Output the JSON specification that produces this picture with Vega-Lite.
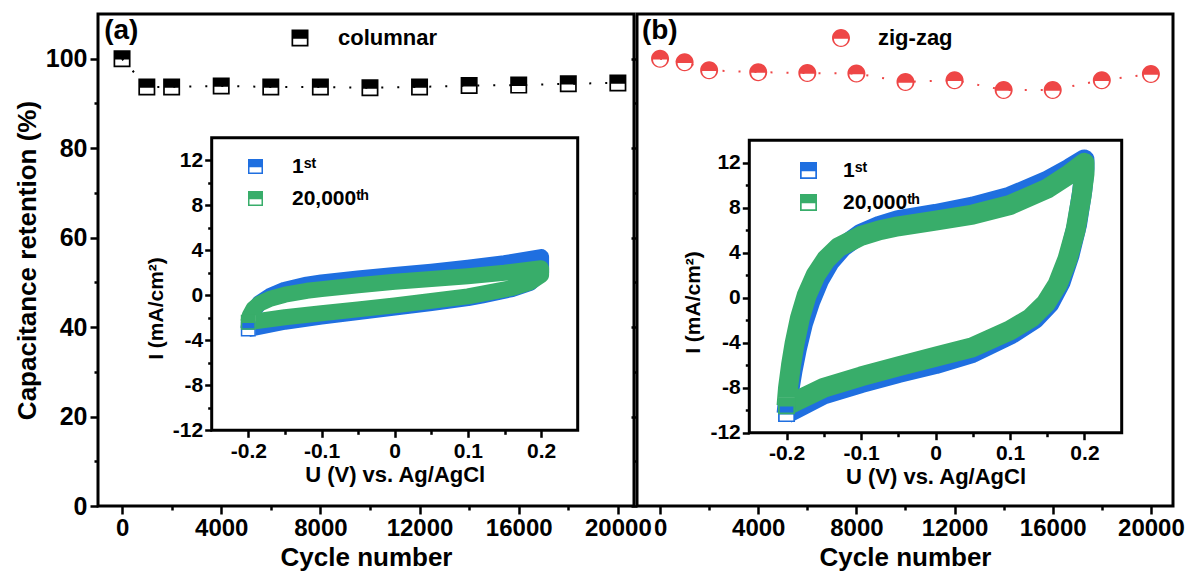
{
  "$schema": "https://vega.github.io/schema/vega-lite/v6.json",
  "padding": {"left": 12, "top": 12, "right": 5, "bottom": 5},
  "background": "white",
  "config": {
    "font": "Liberation Sans",
    "view": {"stroke": "black", "strokeWidth": 3},
    "axis": {"labelFont": "Liberation Sans", "titleFont": "Liberation Sans", "labelFontWeight": "bold", "titleFontWeight": "bold", "labelColor": "black", "titleColor": "black", "tickColor": "black", "tickWidth": 2.5, "grid": false, "labelFlush": false, "labelOverlap": false},
    "legend": {"labelFont": "Liberation Sans", "labelFontWeight": "bold", "labelColor": "black"}
  },
  "datasets": {
    "retA": [
      {"cycle": 0, "retention": 100, "series": "columnar"},
      {"cycle": 1000, "retention": 93.7, "series": "columnar"},
      {"cycle": 2000, "retention": 93.7, "series": "columnar"},
      {"cycle": 4000, "retention": 93.9, "series": "columnar"},
      {"cycle": 6000, "retention": 93.7, "series": "columnar"},
      {"cycle": 8000, "retention": 93.7, "series": "columnar"},
      {"cycle": 10000, "retention": 93.5, "series": "columnar"},
      {"cycle": 12000, "retention": 93.7, "series": "columnar"},
      {"cycle": 14000, "retention": 94.0, "series": "columnar"},
      {"cycle": 16000, "retention": 94.1, "series": "columnar"},
      {"cycle": 18000, "retention": 94.4, "series": "columnar"},
      {"cycle": 20000, "retention": 94.6, "series": "columnar"}
    ],
    "retB": [
      {"cycle": 0, "retention": 100, "series": "zig-zag"},
      {"cycle": 1000, "retention": 99.2, "series": "zig-zag"},
      {"cycle": 2000, "retention": 97.4, "series": "zig-zag"},
      {"cycle": 4000, "retention": 97.0, "series": "zig-zag"},
      {"cycle": 6000, "retention": 96.8, "series": "zig-zag"},
      {"cycle": 8000, "retention": 96.7, "series": "zig-zag"},
      {"cycle": 10000, "retention": 94.8, "series": "zig-zag"},
      {"cycle": 12000, "retention": 95.2, "series": "zig-zag"},
      {"cycle": 14000, "retention": 93.0, "series": "zig-zag"},
      {"cycle": 16000, "retention": 93.0, "series": "zig-zag"},
      {"cycle": 18000, "retention": 95.2, "series": "zig-zag"},
      {"cycle": 20000, "retention": 96.6, "series": "zig-zag"}
    ],
    "cvA": [
      {"U": -0.2, "I": -3.0, "cycle": "1st", "order": 0},
      {"U": -0.198, "I": -2.2, "cycle": "1st", "order": 1},
      {"U": -0.193, "I": -1.4, "cycle": "1st", "order": 2},
      {"U": -0.185, "I": -0.7, "cycle": "1st", "order": 3},
      {"U": -0.17, "I": -0.05, "cycle": "1st", "order": 4},
      {"U": -0.15, "I": 0.5, "cycle": "1st", "order": 5},
      {"U": -0.12, "I": 0.95, "cycle": "1st", "order": 6},
      {"U": -0.1, "I": 1.15, "cycle": "1st", "order": 7},
      {"U": -0.05, "I": 1.5, "cycle": "1st", "order": 8},
      {"U": 0, "I": 1.8, "cycle": "1st", "order": 9},
      {"U": 0.05, "I": 2.1, "cycle": "1st", "order": 10},
      {"U": 0.1, "I": 2.45, "cycle": "1st", "order": 11},
      {"U": 0.15, "I": 2.85, "cycle": "1st", "order": 12},
      {"U": 0.2, "I": 3.4, "cycle": "1st", "order": 13},
      {"U": 0.2, "I": 2.0, "cycle": "1st", "order": 14},
      {"U": 0.185, "I": 1.1, "cycle": "1st", "order": 15},
      {"U": 0.16, "I": 0.55, "cycle": "1st", "order": 16},
      {"U": 0.12, "I": 0.0, "cycle": "1st", "order": 17},
      {"U": 0.1, "I": -0.25, "cycle": "1st", "order": 18},
      {"U": 0.05, "I": -0.7, "cycle": "1st", "order": 19},
      {"U": 0, "I": -1.1, "cycle": "1st", "order": 20},
      {"U": -0.05, "I": -1.5, "cycle": "1st", "order": 21},
      {"U": -0.1, "I": -1.9, "cycle": "1st", "order": 22},
      {"U": -0.15, "I": -2.35, "cycle": "1st", "order": 23},
      {"U": -0.2, "I": -3.0, "cycle": "1st", "order": 24},
      {"U": -0.2, "I": -2.4, "cycle": "20,000th", "order": 0},
      {"U": -0.198, "I": -1.8, "cycle": "20,000th", "order": 1},
      {"U": -0.193, "I": -1.2, "cycle": "20,000th", "order": 2},
      {"U": -0.185, "I": -0.75, "cycle": "20,000th", "order": 3},
      {"U": -0.17, "I": -0.3, "cycle": "20,000th", "order": 4},
      {"U": -0.15, "I": 0.05, "cycle": "20,000th", "order": 5},
      {"U": -0.12, "I": 0.4, "cycle": "20,000th", "order": 6},
      {"U": -0.1, "I": 0.55, "cycle": "20,000th", "order": 7},
      {"U": -0.05, "I": 0.9, "cycle": "20,000th", "order": 8},
      {"U": 0, "I": 1.2, "cycle": "20,000th", "order": 9},
      {"U": 0.05, "I": 1.45, "cycle": "20,000th", "order": 10},
      {"U": 0.1, "I": 1.7, "cycle": "20,000th", "order": 11},
      {"U": 0.15, "I": 2.0, "cycle": "20,000th", "order": 12},
      {"U": 0.2, "I": 2.4, "cycle": "20,000th", "order": 13},
      {"U": 0.2, "I": 1.8, "cycle": "20,000th", "order": 14},
      {"U": 0.185, "I": 1.15, "cycle": "20,000th", "order": 15},
      {"U": 0.16, "I": 0.65, "cycle": "20,000th", "order": 16},
      {"U": 0.12, "I": 0.15, "cycle": "20,000th", "order": 17},
      {"U": 0.1, "I": -0.1, "cycle": "20,000th", "order": 18},
      {"U": 0.05, "I": -0.5, "cycle": "20,000th", "order": 19},
      {"U": 0, "I": -0.9, "cycle": "20,000th", "order": 20},
      {"U": -0.05, "I": -1.25, "cycle": "20,000th", "order": 21},
      {"U": -0.1, "I": -1.6, "cycle": "20,000th", "order": 22},
      {"U": -0.15, "I": -1.95, "cycle": "20,000th", "order": 23},
      {"U": -0.2, "I": -2.4, "cycle": "20,000th", "order": 24}
    ],
    "cvB": [
      {"U": -0.2, "I": -10.3, "cycle": "1st", "order": 0},
      {"U": -0.197, "I": -8.5, "cycle": "1st", "order": 1},
      {"U": -0.192, "I": -6.5, "cycle": "1st", "order": 2},
      {"U": -0.186, "I": -4.5, "cycle": "1st", "order": 3},
      {"U": -0.178, "I": -2.3, "cycle": "1st", "order": 4},
      {"U": -0.168, "I": -0.3, "cycle": "1st", "order": 5},
      {"U": -0.156, "I": 1.6, "cycle": "1st", "order": 6},
      {"U": -0.142, "I": 3.2, "cycle": "1st", "order": 7},
      {"U": -0.125, "I": 4.5, "cycle": "1st", "order": 8},
      {"U": -0.1, "I": 5.7, "cycle": "1st", "order": 9},
      {"U": -0.075, "I": 6.4, "cycle": "1st", "order": 10},
      {"U": -0.05, "I": 6.9, "cycle": "1st", "order": 11},
      {"U": 0, "I": 7.45, "cycle": "1st", "order": 12},
      {"U": 0.05, "I": 8.1, "cycle": "1st", "order": 13},
      {"U": 0.1, "I": 9.0, "cycle": "1st", "order": 14},
      {"U": 0.15, "I": 10.4, "cycle": "1st", "order": 15},
      {"U": 0.18, "I": 11.5, "cycle": "1st", "order": 16},
      {"U": 0.2, "I": 12.3, "cycle": "1st", "order": 17},
      {"U": 0.2, "I": 11.5, "cycle": "1st", "order": 18},
      {"U": 0.197, "I": 9.5, "cycle": "1st", "order": 19},
      {"U": 0.19, "I": 6.5, "cycle": "1st", "order": 20},
      {"U": 0.18, "I": 3.8, "cycle": "1st", "order": 21},
      {"U": 0.168, "I": 1.4, "cycle": "1st", "order": 22},
      {"U": 0.153, "I": -0.5, "cycle": "1st", "order": 23},
      {"U": 0.133, "I": -1.9, "cycle": "1st", "order": 24},
      {"U": 0.1, "I": -3.3, "cycle": "1st", "order": 25},
      {"U": 0.05, "I": -4.9, "cycle": "1st", "order": 26},
      {"U": 0, "I": -5.9, "cycle": "1st", "order": 27},
      {"U": -0.05, "I": -6.7, "cycle": "1st", "order": 28},
      {"U": -0.1, "I": -7.6, "cycle": "1st", "order": 29},
      {"U": -0.15, "I": -8.6, "cycle": "1st", "order": 30},
      {"U": -0.2, "I": -10.3, "cycle": "1st", "order": 31},
      {"U": -0.2, "I": -9.6, "cycle": "20,000th", "order": 0},
      {"U": -0.198, "I": -8.0, "cycle": "20,000th", "order": 1},
      {"U": -0.194, "I": -6.0, "cycle": "20,000th", "order": 2},
      {"U": -0.189, "I": -4.0, "cycle": "20,000th", "order": 3},
      {"U": -0.182, "I": -1.8, "cycle": "20,000th", "order": 4},
      {"U": -0.173, "I": 0.2, "cycle": "20,000th", "order": 5},
      {"U": -0.161, "I": 2.0, "cycle": "20,000th", "order": 6},
      {"U": -0.147, "I": 3.4, "cycle": "20,000th", "order": 7},
      {"U": -0.13, "I": 4.5, "cycle": "20,000th", "order": 8},
      {"U": -0.1, "I": 5.5, "cycle": "20,000th", "order": 9},
      {"U": -0.075, "I": 6.0, "cycle": "20,000th", "order": 10},
      {"U": -0.05, "I": 6.35, "cycle": "20,000th", "order": 11},
      {"U": 0, "I": 6.85, "cycle": "20,000th", "order": 12},
      {"U": 0.05, "I": 7.4, "cycle": "20,000th", "order": 13},
      {"U": 0.1, "I": 8.25, "cycle": "20,000th", "order": 14},
      {"U": 0.15, "I": 9.7, "cycle": "20,000th", "order": 15},
      {"U": 0.18, "I": 11.0, "cycle": "20,000th", "order": 16},
      {"U": 0.2, "I": 12.0, "cycle": "20,000th", "order": 17},
      {"U": 0.2, "I": 11.0, "cycle": "20,000th", "order": 18},
      {"U": 0.196, "I": 9.0, "cycle": "20,000th", "order": 19},
      {"U": 0.188, "I": 6.0, "cycle": "20,000th", "order": 20},
      {"U": 0.177, "I": 3.4, "cycle": "20,000th", "order": 21},
      {"U": 0.164, "I": 1.2, "cycle": "20,000th", "order": 22},
      {"U": 0.148, "I": -0.5, "cycle": "20,000th", "order": 23},
      {"U": 0.128, "I": -1.8, "cycle": "20,000th", "order": 24},
      {"U": 0.1, "I": -2.9, "cycle": "20,000th", "order": 25},
      {"U": 0.05, "I": -4.4, "cycle": "20,000th", "order": 26},
      {"U": 0, "I": -5.25, "cycle": "20,000th", "order": 27},
      {"U": -0.05, "I": -6.1, "cycle": "20,000th", "order": 28},
      {"U": -0.1, "I": -7.0, "cycle": "20,000th", "order": 29},
      {"U": -0.15, "I": -8.0, "cycle": "20,000th", "order": 30},
      {"U": -0.2, "I": -9.6, "cycle": "20,000th", "order": 31}
    ],
    "panelLabels": [
      {"panel": "a", "label": "(a)"},
      {"panel": "b", "label": "(b)"}
    ]
  },
  "spacing": 3,
  "bounds": "flush",
  "hconcat": [
    {
      "width": 536,
      "height": 492,
      "layer": [
        {
          "data": {"name": "retA"},
          "encoding": {
            "x": {"field": "cycle", "type": "quantitative", "scale": {"domain": [-970, 20650], "nice": false, "zero": false},
              "axis": {"title": "Cycle number", "values": [0, 2000, 4000, 6000, 8000, 10000, 12000, 14000, 16000, 18000, 20000], "format": "d", "labelExpr": "datum.value % 4000 == 0 ? datum.label : ''", "tickSize": {"condition": {"test": "datum.value % 4000 == 0", "value": 8}, "value": 4}, "domain": false, "labelFontSize": 24, "titleFontSize": 26, "labelPadding": 2, "titlePadding": 4}},
            "y": {"field": "retention", "type": "quantitative", "scale": {"domain": [0, 110], "nice": false},
              "axis": {"title": "Capacitance retention (%)", "values": [0, 10, 20, 30, 40, 50, 60, 70, 80, 90, 100], "labelExpr": "datum.value % 20 == 0 ? datum.label : ''", "tickSize": {"condition": {"test": "datum.value % 20 == 0", "value": 8}, "value": 4}, "domain": false, "labelFontSize": 25, "titleFontSize": 26, "labelPadding": 3, "titlePadding": 5}}
          },
          "layer": [
            {"mark": {"type": "line", "color": "black", "strokeWidth": 2, "strokeDash": [2, 14]}, "encoding": {}},
            {"mark": {"type": "point", "filled": true, "opacity": 1, "shape": "M-1,-1H1V1H-1Z M-0.8,0.1V0.8H0.8V0.1Z", "size": 289, "strokeWidth": 0},
              "encoding": {"color": {"field": "series", "type": "nominal", "scale": {"range": ["black"]},
                "legend": {"orient": "none", "legendX": 191, "legendY": 13, "title": null, "symbolType": "M-1,-1H1V1H-1Z M-0.8,0.1V0.8H0.8V0.1Z", "symbolSize": 289, "symbolStrokeWidth": 0, "symbolOpacity": 1, "labelFontSize": 22, "labelOffset": 27, "padding": 0}}}}
          ]
        },
        {
          "data": {"name": "panelLabels"},
          "transform": [{"filter": "datum.panel == 'a'"}],
          "mark": {"type": "text", "align": "left", "baseline": "alphabetic", "fontSize": 28, "fontWeight": "bold", "font": "Liberation Sans", "color": "black"},
          "encoding": {
            "x": {"datum": -720, "type": "quantitative", "scale": {"domain": [-970, 20650], "nice": false, "zero": false}, "axis": null},
            "y": {"datum": 104.4, "type": "quantitative", "scale": {"domain": [0, 110], "nice": false, "zero": false}, "axis": null},
            "text": {"field": "label", "type": "nominal"}
          }
        },
        {
          "data": {"name": "cvA"},
          "layer": [
            {"data": {"values": [{}]}, "mark": {"type": "rect", "fill": "transparent", "stroke": "black", "strokeWidth": 3},
              "encoding": {
                "x": {"datum": -0.25, "type": "quantitative", "scale": {"domain": [-0.25, 0.25], "range": [113.7, 479.7], "nice": false, "zero": false},
                  "axis": {"orient": "bottom", "offset": -75.7, "title": "U (V) vs. Ag/AgCl", "values": [-0.2, -0.15, -0.1, -0.05, 0, 0.05, 0.1, 0.15, 0.2], "labelExpr": "abs(datum.value*10 - round(datum.value*10)) < 0.001 ? (datum.value == 0 ? '0' : replace(format(datum.value, '.1f'), '−', '-')) : ''", "tickSize": {"condition": {"test": "abs(datum.value*10 - round(datum.value*10)) < 0.001", "value": 7}, "value": 4}, "domain": false, "labelFontSize": 21, "titleFontSize": 22, "labelPadding": 3, "titlePadding": 3}},
                "x2": {"datum": 0.25},
                "y": {"datum": -12, "type": "quantitative", "scale": {"domain": [-12, 14], "range": [416.3, 123.8], "nice": false, "zero": false},
                  "axis": {"orient": "left", "offset": -113.7, "title": "I (mA/cm²)", "titleY": 294, "values": [-12, -10, -8, -6, -4, -2, 0, 2, 4, 6, 8, 10, 12], "labelExpr": "datum.value % 4 == 0 ? replace(datum.label, '−', '-') : ''", "tickSize": {"condition": {"test": "datum.value % 4 == 0", "value": 7}, "value": 4}, "domain": false, "labelFontSize": 21, "titleFontSize": 21, "labelPadding": 2, "titlePadding": 6}},
                "y2": {"datum": 14}
              }},
            {"transform": [{"filter": "datum.cycle == '1st'"}], "mark": {"type": "line", "color": "#1f6fe0", "strokeWidth": 16, "strokeJoin": "round"},
              "encoding": {"x": {"field": "U", "type": "quantitative"}, "y": {"field": "I", "type": "quantitative"}, "order": {"field": "order", "type": "quantitative"}}},
            {"transform": [{"filter": "datum.cycle == '20,000th'"}], "mark": {"type": "line", "color": "#38ad6a", "strokeWidth": 16, "strokeJoin": "round"},
              "encoding": {"x": {"field": "U", "type": "quantitative"}, "y": {"field": "I", "type": "quantitative"}, "order": {"field": "order", "type": "quantitative"}}},
            {"transform": [{"filter": "datum.order == 0"}], "mark": {"type": "point", "filled": true, "opacity": 1, "shape": "square", "color": "white", "size": 200, "strokeWidth": 0},
              "encoding": {"x": {"field": "U", "type": "quantitative"}, "y": {"field": "I", "type": "quantitative"}}},
            {"transform": [{"filter": "datum.order == 0"}], "mark": {"type": "point", "filled": true, "opacity": 1, "shape": "M-1,-1H1V1H-1Z M-0.8,0.1V0.8H0.8V0.1Z", "size": 225, "strokeWidth": 0},
              "encoding": {"x": {"field": "U", "type": "quantitative"}, "y": {"field": "I", "type": "quantitative"},
                "color": {"field": "cycle", "type": "nominal", "scale": {"domain": ["1st", "20,000th"], "range": ["#1f6fe0", "#38ad6a"]},
                  "legend": {"orient": "none", "legendX": 147, "legendY": 142, "title": null, "symbolType": "M-1,-1H1V1H-1Z M-0.8,0.1V0.8H0.8V0.1Z", "symbolSize": 225, "symbolStrokeWidth": 0, "symbolOpacity": 1, "labelFontSize": 21, "labelOffset": 26, "rowPadding": 10, "padding": 0, "labelExpr": "datum.label == '1st' ? '1ˢᵗ' : '20,000ᵗʰ'"}}}}
          ]
        }
      ],
      "resolve": {"scale": {"x": "independent", "y": "independent", "color": "independent"}}
    },
    {
      "width": 536,
      "height": 492,
      "layer": [
        {
          "data": {"name": "retB"},
          "encoding": {
            "x": {"field": "cycle", "type": "quantitative", "scale": {"domain": [-940, 20900], "nice": false, "zero": false},
              "axis": {"title": "Cycle number", "values": [0, 2000, 4000, 6000, 8000, 10000, 12000, 14000, 16000, 18000, 20000], "format": "d", "labelExpr": "datum.value % 4000 == 0 ? datum.label : ''", "tickSize": {"condition": {"test": "datum.value % 4000 == 0", "value": 8}, "value": 4}, "domain": false, "labelFontSize": 24, "titleFontSize": 26, "labelPadding": 2, "titlePadding": 4}},
            "y": {"field": "retention", "type": "quantitative", "scale": {"domain": [0, 110], "nice": false},
              "axis": {"title": null, "labels": false, "values": [0, 10, 20, 30, 40, 50, 60, 70, 80, 90, 100], "tickSize": {"condition": {"test": "datum.value % 20 == 0", "value": 6}, "value": 3}, "domain": false}}
          },
          "layer": [
            {"mark": {"type": "line", "color": "#ee4646", "strokeWidth": 2, "strokeDash": [2, 14]}, "encoding": {}},
            {"mark": {"type": "point", "filled": true, "opacity": 1, "shape": "M-1,0A1,1 0 0,1 1,0A1,1 0 0,1 -1,0Z M-0.78,0.08A0.78,0.78 0 0,0 0.78,0.08Z", "size": 324, "strokeWidth": 0},
              "encoding": {"color": {"field": "series", "type": "nominal", "scale": {"range": ["#ee4646"]},
                "legend": {"orient": "none", "legendX": 193, "legendY": 13, "title": null, "symbolType": "M-1,0A1,1 0 0,1 1,0A1,1 0 0,1 -1,0Z M-0.78,0.08A0.78,0.78 0 0,0 0.78,0.08Z", "symbolSize": 324, "symbolStrokeWidth": 0, "symbolOpacity": 1, "labelFontSize": 22, "labelOffset": 26, "padding": 0}}}}
          ]
        },
        {
          "data": {"name": "panelLabels"},
          "transform": [{"filter": "datum.panel == 'b'"}],
          "mark": {"type": "text", "align": "left", "baseline": "alphabetic", "fontSize": 28, "fontWeight": "bold", "font": "Liberation Sans", "color": "black"},
          "encoding": {
            "x": {"datum": -740, "type": "quantitative", "scale": {"domain": [-940, 20900], "nice": false, "zero": false}, "axis": null},
            "y": {"datum": 104.4, "type": "quantitative", "scale": {"domain": [0, 110], "nice": false, "zero": false}, "axis": null},
            "text": {"field": "label", "type": "nominal"}
          }
        },
        {
          "data": {"name": "cvB"},
          "layer": [
            {"data": {"values": [{}]}, "mark": {"type": "rect", "fill": "transparent", "stroke": "black", "strokeWidth": 3},
              "encoding": {
                "x": {"datum": -0.25, "type": "quantitative", "scale": {"domain": [-0.25, 0.25], "range": [112.3, 484.7], "nice": false, "zero": false},
                  "axis": {"orient": "bottom", "offset": -73.3, "title": "U (V) vs. Ag/AgCl", "values": [-0.2, -0.15, -0.1, -0.05, 0, 0.05, 0.1, 0.15, 0.2], "labelExpr": "abs(datum.value*10 - round(datum.value*10)) < 0.001 ? (datum.value == 0 ? '0' : replace(format(datum.value, '.1f'), '−', '-')) : ''", "tickSize": {"condition": {"test": "abs(datum.value*10 - round(datum.value*10)) < 0.001", "value": 7}, "value": 4}, "domain": false, "labelFontSize": 21, "titleFontSize": 22, "labelPadding": 3, "titlePadding": 3}},
                "x2": {"datum": 0.25},
                "y": {"datum": -12, "type": "quantitative", "scale": {"domain": [-12, 14], "range": [418.7, 126.3], "nice": false, "zero": false},
                  "axis": {"orient": "left", "offset": -112.3, "title": "I (mA/cm²)", "titleY": 288, "values": [-12, -10, -8, -6, -4, -2, 0, 2, 4, 6, 8, 10, 12], "labelExpr": "datum.value % 4 == 0 ? replace(datum.label, '−', '-') : ''", "tickSize": {"condition": {"test": "datum.value % 4 == 0", "value": 7}, "value": 4}, "domain": false, "labelFontSize": 21, "titleFontSize": 21, "labelPadding": 2, "titlePadding": 6}},
                "y2": {"datum": 14}
              }},
            {"transform": [{"filter": "datum.cycle == '1st'"}], "mark": {"type": "line", "color": "#1f6fe0", "strokeWidth": 20, "strokeJoin": "round"},
              "encoding": {"x": {"field": "U", "type": "quantitative"}, "y": {"field": "I", "type": "quantitative"}, "order": {"field": "order", "type": "quantitative"}}},
            {"transform": [{"filter": "datum.cycle == '20,000th'"}], "mark": {"type": "line", "color": "#38ad6a", "strokeWidth": 20, "strokeJoin": "round"},
              "encoding": {"x": {"field": "U", "type": "quantitative"}, "y": {"field": "I", "type": "quantitative"}, "order": {"field": "order", "type": "quantitative"}}},
            {"transform": [{"filter": "datum.order == 0"}], "mark": {"type": "point", "filled": true, "opacity": 1, "shape": "square", "color": "white", "size": 260, "strokeWidth": 0},
              "encoding": {"x": {"field": "U", "type": "quantitative"}, "y": {"field": "I", "type": "quantitative"}}},
            {"transform": [{"filter": "datum.order == 0"}], "mark": {"type": "point", "filled": true, "opacity": 1, "shape": "M-1,-1H1V1H-1Z M-0.8,0.1V0.8H0.8V0.1Z", "size": 289, "strokeWidth": 0},
              "encoding": {"x": {"field": "U", "type": "quantitative"}, "y": {"field": "I", "type": "quantitative"},
                "color": {"field": "cycle", "type": "nominal", "scale": {"domain": ["1st", "20,000th"], "range": ["#1f6fe0", "#38ad6a"]},
                  "legend": {"orient": "none", "legendX": 161, "legendY": 146, "title": null, "symbolType": "M-1,-1H1V1H-1Z M-0.8,0.1V0.8H0.8V0.1Z", "symbolSize": 289, "symbolStrokeWidth": 0, "symbolOpacity": 1, "labelFontSize": 21, "labelOffset": 24, "rowPadding": 10, "padding": 0, "labelExpr": "datum.label == '1st' ? '1ˢᵗ' : '20,000ᵗʰ'"}}}}
          ]
        }
      ],
      "resolve": {"scale": {"x": "independent", "y": "independent", "color": "independent"}}
    }
  ]
}
